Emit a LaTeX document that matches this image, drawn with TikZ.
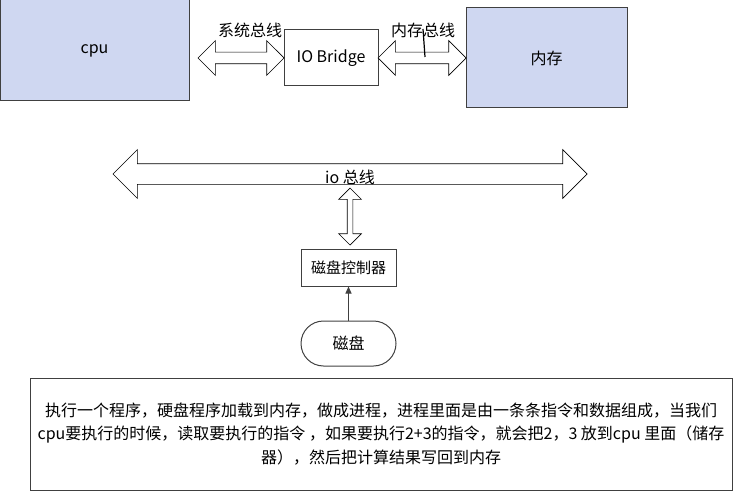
\documentclass[tikz,border=0pt]{standalone}
\usepackage{fontspec}
\setmainfont{Noto Sans CJK SC}
\usetikzlibrary{shapes.arrows,shapes.misc,positioning,arrows.meta}
\definecolor{boxblue}{RGB}{207,215,241}
\definecolor{edgegray}{RGB}{64,64,64}

\begin{document}
\begin{tikzpicture}[x=1pt, y=-1pt,
    every node/.style={font=\fontsize{16}{19}\selectfont},
    block/.style={rectangle, draw=edgegray, line width=1pt, inner sep=0pt},
    unit/.style={block, fill=boxblue},
    bus/.style={double arrow, draw, line width=0.7pt, fill=white, inner xsep=0pt, double arrow head extend=#1},
    bus/.default=11.5,
    arrow/.style={-{Triangle[length=7pt,width=6pt]}, line width=1pt, draw=edgegray}
]
    \useasboundingbox (0,0) rectangle (733,492);

    % Top row
    \node[unit, minimum width=189, minimum height=101] (cpu) at (94.5,50.5) {cpu};
    \node[block, minimum width=94, minimum height=56] (bridge) at (331,58) {IO Bridge};
    \node[unit, minimum width=161, minimum height=100] (mem) at (546.5,58) {内存};

    % Buses between them
    \node[bus, inner ysep=5.5pt, minimum height=86] (sys) at (241,58) {};
    \node[bus, inner ysep=5.5pt, minimum height=88] (mbus) at (422,58) {};
    \node (syslabel) at (250,30) {系统总线};
    \node (memlabel) at (423,30) {内存总线};
    \draw[line width=1.2pt] (423,29) -- (425,57);

    % IO bus
    \node[bus=14, inner ysep=10pt, minimum height=474] (iobus) at (350,174) {};
    \node (iolabel) at (350,177) {io 总线};
    \node[bus=8.5, inner sep=2.5pt, shape border rotate=90, minimum height=57] (link) at (350,216.5) {};

    % Disk side
    \node[block, minimum width=95, minimum height=37, font=\fontsize{15}{18}\selectfont] (ctrl) at (348.5,267.5) {磁盘控制器};
    \node[block, rounded rectangle, minimum width=95, minimum height=45, below=34pt of ctrl] (disk) {磁盘};
    \draw[arrow] (disk) -- (ctrl);

    % Note
    \node[block, minimum width=702, minimum height=112, align=center,
          font=\fontsize{16}{23.5}\selectfont] (note) at (381,434)
        {执行一个程序，硬盘程序加载到内存，做成进程，进程里面是由一条条指令和数据组成，当我们\\
         cpu要执行的时候，读取要执行的指令 ，如果要执行2+3的指令，就会把2，3 放到cpu 里面（储存\\
         器），然后把计算结果写回到内存};
\end{tikzpicture}
\end{document}
